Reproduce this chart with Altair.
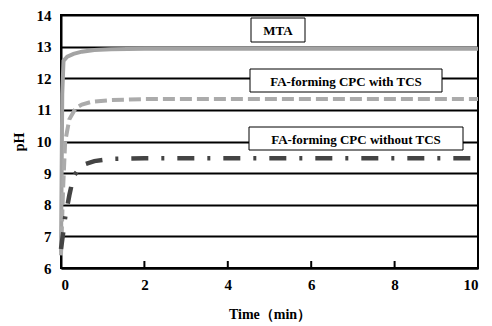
import altair as alt
import pandas as pd

# ---- data ----
mta_t = [0, 0.03, 0.06, 0.15, 0.3, 0.5, 0.8, 1.2, 2, 10]
mta_ph = [6.5, 11.5, 12.55, 12.68, 12.77, 12.84, 12.89, 12.92, 12.93, 12.93]
tcs_t = [0, 0.05, 0.1, 0.2, 0.35, 0.5, 0.75, 1.2, 2, 10]
tcs_ph = [6.4, 8.5, 10.0, 10.7, 11.05, 11.17, 11.26, 11.31, 11.34, 11.34]
no_t = [0, 0.1, 0.2, 0.3, 0.5, 0.8, 1.2, 2, 10]
no_ph = [6.6, 7.6, 8.3, 8.9, 9.25, 9.38, 9.45, 9.47, 9.47]
series = ["MTA", "FA-forming CPC with TCS", "FA-forming CPC without TCS"]
x_ticks = [0, 2, 4, 6, 8, 10]
x_inner_ticks = [2, 4, 6, 8]
y_ticks = [6, 7, 8, 9, 10, 11, 12, 13, 14]

rows = []
for name, ts, ps in zip(series, [mta_t, tcs_t, no_t], [mta_ph, tcs_ph, no_ph]):
    for t, p in zip(ts, ps):
        rows.append({"series": name, "t": t, "ph": p})
df = pd.DataFrame(rows)

FONT = "Liberation Serif"
W, H = 417, 253

xs = alt.Scale(domain=[0, 10], nice=False)
ys = alt.Scale(domain=[6, 14], nice=False)

base = alt.Chart(df).encode(
    x=alt.X("t:Q", scale=xs,
            axis=alt.Axis(values=x_ticks, title="Time（min）", format="d", ticks=False,
                          grid=False, labelPadding=9, titlePadding=15)),
    y=alt.Y("ph:Q", scale=ys,
            axis=alt.Axis(values=y_ticks, title="pH", format="d", ticks=False,
                          grid=True, gridColor="black", gridWidth=2, gridOpacity=1,
                          labelPadding=10, titlePadding=10)),
)

mta = base.transform_filter(alt.datum.series == series[0]).mark_line(
    color="#a3a3a3", strokeWidth=4)
tcs = base.transform_filter(alt.datum.series == series[1]).mark_line(
    color="#ababab", strokeWidth=4, strokeDash=[12, 5])
no = base.transform_filter(alt.datum.series == series[2]).mark_line(
    color="#444444", strokeWidth=4.5, strokeDash=[17, 13, 3, 13])

tick_df = pd.DataFrame({"t": x_inner_ticks})
ticks = alt.Chart(tick_df).mark_rule(color="black", strokeWidth=2).encode(
    x=alt.X("t:Q", scale=xs), y=alt.value(H), y2=alt.value(H - 7))

lab_df = pd.DataFrame({"label": series})
boxes_pos = [(190, 244, 3, 27), (189, 381, 54, 77), (188, 402, 112, 135)]
ann = []
for name, (x1, x2, y1, y2) in zip(series, boxes_pos):
    d = lab_df[lab_df.label == name]
    ann.append(alt.Chart(d).mark_rect(fill="white", stroke="black", strokeWidth=1).encode(
        x=alt.value(x1), x2=alt.value(x2), y=alt.value(y1), y2=alt.value(y2)))
    ann.append(alt.Chart(d).mark_text(font=FONT, fontWeight="bold", fontSize=13,
                                      color="black", align="center", baseline="middle").encode(
        x=alt.value((x1 + x2) / 2), y=alt.value((y1 + y2) / 2 + 1), text="label:N"))

chart = alt.layer(base.mark_line(opacity=0), ticks, *ann, mta, tcs, no).properties(
    width=W, height=H,
    background="white",
    autosize=alt.AutoSizeParams(type="none"),
    padding={"left": 53, "top": 7, "right": 6, "bottom": 58},
).configure_view(stroke="black", strokeWidth=2).configure_axis(
    domainColor="black", domainWidth=2,
    labelFont=FONT, labelFontWeight="bold", labelFontSize=15, labelColor="black",
    titleFont=FONT, titleFontWeight="bold", titleFontSize=14, titleColor="black",
)

chart.save("out.html", embed_options={"renderer": "svg", "actions": False})
